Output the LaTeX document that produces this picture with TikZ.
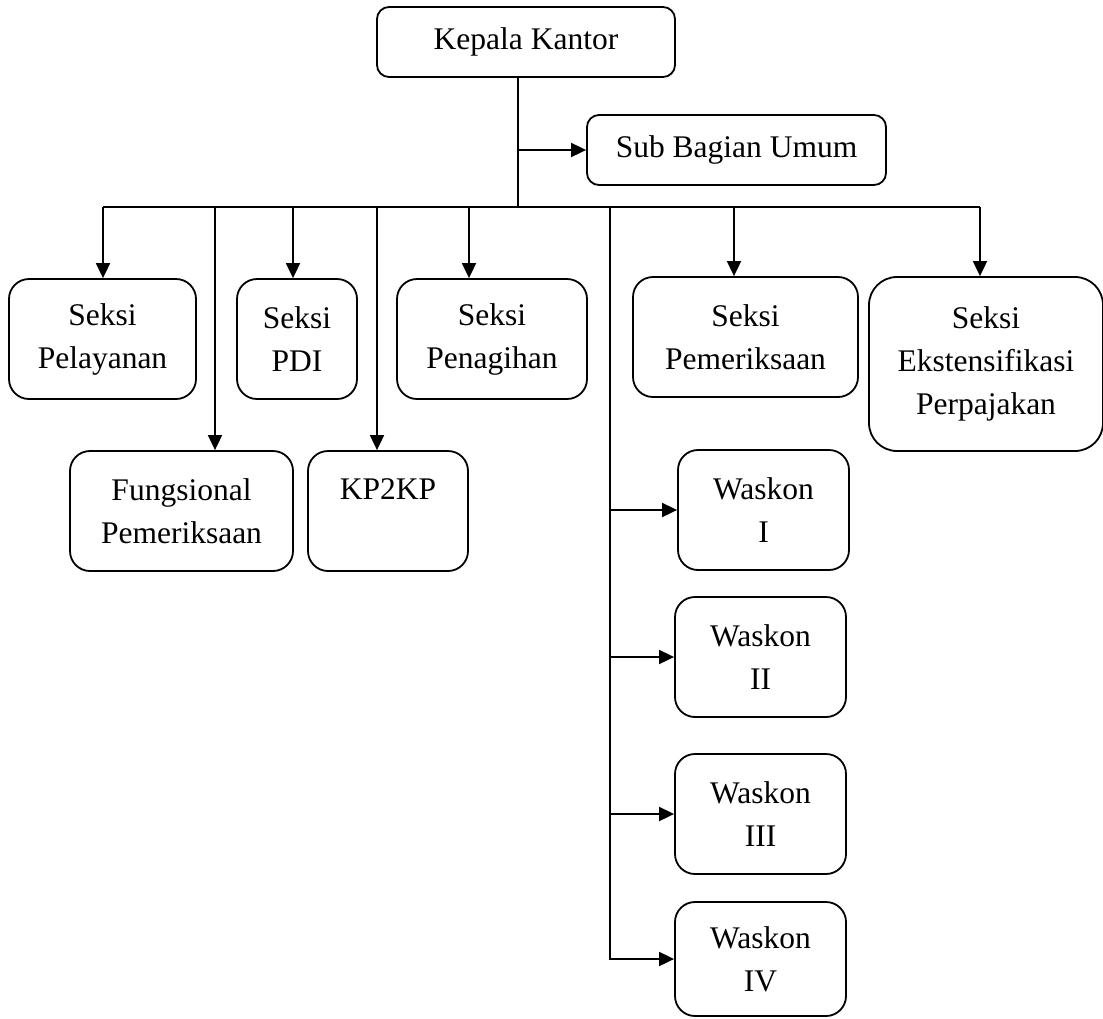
\documentclass[tikz,border=0pt]{standalone}
\usepackage{fontspec}
\setmainfont{Liberation Serif}
\usetikzlibrary{arrows.meta}
\tikzstyle{WhiteBody} = [fill=white, draw=black, font=\fontsize{31.5}{43}\selectfont]
\tikzstyle{Box}       = [rectangle, rounded corners=20pt, line width=1.8pt, align=center, inner sep=0pt, minimum height=120pt]
\tikzstyle{Link}      = [line width=1.8pt]
\tikzstyle{Arrow}     = [Link, -{Triangle[length=15pt, width=14pt]}]

\begin{document}
\begin{tikzpicture}[x=1pt, y=-1pt]
\useasboundingbox (0,0) rectangle (1103,1018);

%% ------------------------------------------------------------- [ Pimpinan ]
\node (kepala) [Box, WhiteBody, rounded corners=12pt,
                minimum width=298pt, minimum height=70pt] at (526,42) {Kepala Kantor};
\node (subbag) [Box, WhiteBody, rounded corners=12pt,
                minimum width=299pt, minimum height=70pt] at (736.5,150) {Sub Bagian Umum};

%% ---------------------------------------------------------------- [ Seksi ]
\node (pelayanan) [Box, WhiteBody, minimum width=187pt] at (102.5,339) {Seksi\\Pelayanan};
\node (pdi) [Box, WhiteBody, minimum width=120pt] at (297,339) {Seksi\\PDI};
\node (penagihan) [Box, WhiteBody, minimum width=190pt] at (492,339) {Seksi\\Penagihan};
\node (pemeriksaan) [Box, WhiteBody, minimum width=225pt] at (745.5,337) {Seksi\\Pemeriksaan};
\node (ekstens) [Box, WhiteBody, rounded corners=28pt,
                 minimum width=234pt, minimum height=174pt] at (986,364) {Seksi\\Ekstensifikasi\\Perpajakan};

\node (fungsional) [Box, WhiteBody, minimum width=223pt] at (181.5,511) {Fungsional\\Pemeriksaan};
\node (kpkp) [Box, WhiteBody, minimum width=160pt] at (388,511) {KP2KP\\ \mbox{}};

%% --------------------------------------------------------------- [ Waskon ]
\node (waskon1) [Box, WhiteBody, minimum width=171pt] at (763.5,510) {Waskon\\I};
\node (waskon2) [Box, WhiteBody, minimum width=171pt] at (760.5,657) {Waskon\\II};
\node (waskon3) [Box, WhiteBody, minimum width=171pt] at (760.5,814) {Waskon\\III};
\node (waskon4) [Box, WhiteBody, minimum width=171pt, minimum height=114pt] at (760.5,959) {Waskon\\IV};

%% ---------------------------------------------------------------- [ Garis ]
\coordinate (bus)  at (518,207);
\coordinate (dPel) at (103,207);
\coordinate (dFun) at (215,207);
\coordinate (dPdi) at (293,207);
\coordinate (dKp)  at (377,207);
\coordinate (dPen) at (469,207);
\coordinate (dWas) at (610,207);
\coordinate (dPem) at (734,207);
\coordinate (dEks) at (980,207);

\draw[Link] (kepala.south -| bus) -- (bus);
\draw[Arrow] (subbag.west -| bus) -- (subbag.west);
\draw[Link] (dPel) -- (dEks);

\draw[Arrow] (dPel) -- (dPel |- pelayanan.north);
\draw[Arrow] (dFun) -- (dFun |- fungsional.north);
\draw[Arrow] (dPdi) -- (dPdi |- pdi.north);
\draw[Arrow] (dKp)  -- (dKp |- kpkp.north);
\draw[Arrow] (dPen) -- (dPen |- penagihan.north);
\draw[Arrow] (dPem) -- (dPem |- pemeriksaan.north);
\draw[Arrow] (dEks) -- (dEks |- ekstens.north);

\draw[Arrow] (dWas) |- (waskon4.west);
\draw[Arrow] (waskon1.west -| dWas) -- (waskon1.west);
\draw[Arrow] (waskon2.west -| dWas) -- (waskon2.west);
\draw[Arrow] (waskon3.west -| dWas) -- (waskon3.west);
\end{tikzpicture}
\end{document}
